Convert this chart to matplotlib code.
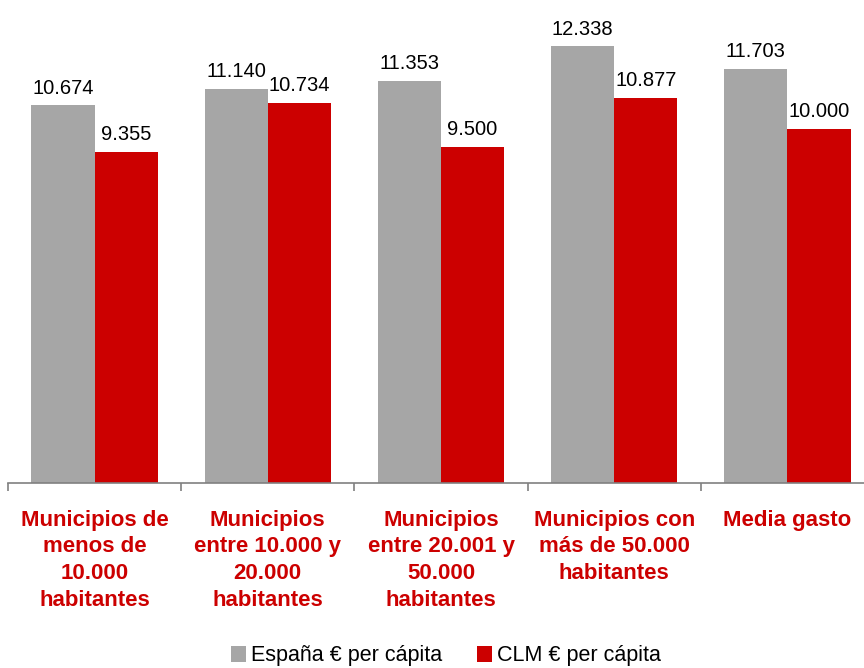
import matplotlib.pyplot as plt
import numpy as np

plt.rcParams['font.family'] = ['Liberation Sans', 'DejaVu Sans']

categorias = ['Municipios de\nmenos de\n10.000\nhabitantes',
              'Municipios\nentre 10.000 y\n20.000\nhabitantes',
              'Municipios\nentre 20.001 y\n50.000\nhabitantes',
              'Municipios con\nmás de 50.000\nhabitantes',
              'Media gasto']
espana = [10.674, 11.140, 11.353, 12.338, 11.703]
clm = [9.355, 10.734, 9.500, 10.877, 10.000]
series = ['España € per cápita', 'CLM € per cápita']

gris = '#A6A6A6'
rojo = '#CC0000'

fig = plt.figure(figsize=(8.64, 6.68), dpi=100)
# axes: x from 8px to ~874px, y from 483px (bottom) to 0 (top)
ax = fig.add_axes([8 / 864, 1 - 483 / 668, 866 / 864, 483 / 668])

x = np.arange(len(categorias))
w = 0.365
b1 = ax.bar(x - w / 2, espana, w, color=gris)
b2 = ax.bar(x + w / 2, clm, w, color=rojo)

for bars, vals in ((b1, espana), (b2, clm)):
    for r, v in zip(bars, vals):
        ax.text(r.get_x() + r.get_width() / 2, v + 0.22, f'{v:.3f}',
                ha='center', va='bottom', fontsize=14.5)

ax.set_xlim(-0.5, len(categorias) - 0.5)
ax.set_ylim(0, 13.65)
ax.set_yticks([])
for s in ['top', 'right', 'left']:
    ax.spines[s].set_visible(False)
ax.spines['bottom'].set_color('#808080')
ax.spines['bottom'].set_linewidth(1.2)

ax.set_xticks(np.arange(len(categorias) + 1) - 0.5)
ax.set_xticklabels([])
ax.tick_params(axis='x', length=6, color='#808080', width=1.2)

for xi, lab in zip(x, categorias):
    ax.text(xi, -0.75, lab, ha='center', va='top', color=rojo,
            fontsize=16, fontweight='bold', linespacing=1.37)

fig.legend([b1, b2], series, loc='center', bbox_to_anchor=(446 / 864, 1 - 656 / 668),
           ncol=2, frameon=False, fontsize=15.5, handlelength=0.7, handleheight=0.7,
           handletextpad=0.25, columnspacing=1.6)

fig.savefig('out.png', dpi=100)
